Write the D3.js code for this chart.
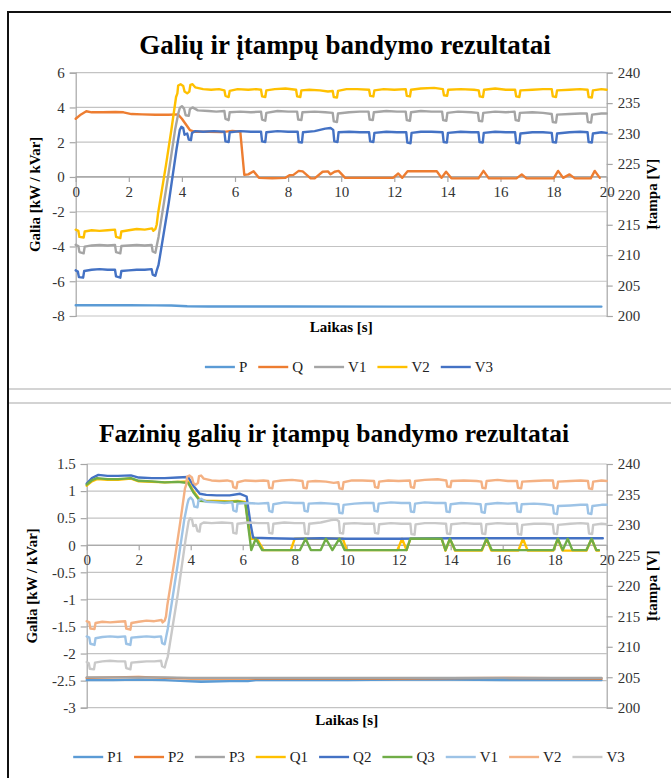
<!DOCTYPE html>
<html><head><meta charset="utf-8">
<script src="https://cdn.jsdelivr.net/npm/d3@7"></script>
<style>
body{margin:0;background:#fff;}
svg{display:block;}
svg text{font-family:"Liberation Serif","Times New Roman",serif !important;}
</style></head>
<body><svg id="c" width="671" height="778"></svg>
<script>
// ---------- DATA ----------
const xTicks = [0,2,4,6,8,10,12,14,16,18,20];
const topLeftTicks = [-8,-6,-4,-2,0,2,4,6];
const botLeftTicks = [-3,-2.5,-2,-1.5,-1,-0.5,0,0.5,1,1.5];
const rightTicks = [200,205,210,215,220,225,230,235,240];

// phase voltages [s, V]
const V1 = [[0,211.7],[0.1,211.5],[0.14,210.5],[0.3,210.3],[0.34,211.4],[0.6,211.6],[0.9,211.7],[1.2,211.6],[1.48,211.7],[1.52,210.5],[1.68,210.3],[1.72,211.5],[2.0,211.6],[2.3,211.7],[2.6,211.6],[2.86,211.7],[2.9,210.6],[3.0,210.4],[3.05,211.5],[3.12,213.0],[3.5,223.5],[3.75,230.8],[3.87,233.4],[3.92,234.2],[4.0,234.5],[4.08,234.1],[4.14,233.0],[4.26,232.9],[4.3,234.0],[4.4,234.3],[4.6,233.8],[5.0,233.7],[5.3,233.6],[5.6,233.7],[5.64,232.4],[5.76,232.2],[5.8,233.5],[6.2,233.6],[6.6,233.5],[6.98,233.6],[7.02,232.3],[7.14,232.1],[7.18,233.4],[7.6,233.7],[8.0,233.6],[8.34,233.6],[8.38,232.3],[8.5,232.2],[8.54,233.5],[9.0,233.6],[9.4,233.5],[9.68,233.4],[9.72,232.0],[9.84,231.9],[9.88,233.3],[10.3,233.5],[10.7,233.6],[11.03,233.6],[11.07,232.3],[11.19,232.2],[11.23,233.5],[11.7,233.7],[12.1,233.6],[12.43,233.6],[12.47,232.2],[12.59,232.1],[12.63,233.5],[13.0,233.7],[13.4,233.6],[13.8,233.6],[13.84,232.2],[13.96,232.1],[14.0,233.4],[14.4,233.6],[14.9,233.5],[15.15,233.4],[15.19,232.1],[15.31,232.0],[15.35,233.4],[15.8,233.6],[16.2,233.5],[16.53,233.6],[16.57,232.2],[16.69,232.1],[16.73,233.4],[17.2,233.5],[17.6,233.4],[17.93,233.2],[17.97,231.9],[18.09,231.8],[18.13,233.1],[18.6,233.2],[19.0,233.3],[19.25,233.3],[19.29,231.9],[19.41,231.8],[19.45,233.1],[19.8,233.3],[20,233.3]];
const V2 = [[0,214.2],[0.1,214.0],[0.14,213.0],[0.3,212.9],[0.34,213.9],[0.6,214.1],[0.9,214.0],[1.2,214.1],[1.48,214.2],[1.52,213.0],[1.68,212.8],[1.72,213.9],[2.0,214.1],[2.3,214.3],[2.6,214.2],[2.88,214.4],[2.92,214.0],[3.0,214.3],[3.05,215.0],[3.1,216.8],[3.4,224.8],[3.6,230.5],[3.78,236.0],[3.83,236.6],[3.86,237.9],[3.95,238.1],[4.05,237.8],[4.1,236.9],[4.2,236.6],[4.28,236.9],[4.32,238.0],[4.4,238.1],[4.5,237.6],[4.8,237.3],[5.1,237.2],[5.4,237.3],[5.6,237.1],[5.64,236.2],[5.76,236.0],[5.8,237.0],[6.1,237.3],[6.5,237.2],[6.8,237.3],[6.98,237.2],[7.02,236.1],[7.14,236.0],[7.18,237.1],[7.5,237.3],[7.9,237.4],[8.3,237.2],[8.34,236.1],[8.46,236.0],[8.5,237.1],[8.8,237.2],[9.2,237.1],[9.5,236.9],[9.68,237.0],[9.72,236.0],[9.84,235.9],[9.88,237.0],[10.2,237.3],[10.6,237.3],[11.05,237.2],[11.09,236.2],[11.21,236.1],[11.25,237.1],[11.6,237.3],[12.0,237.2],[12.43,237.3],[12.47,236.2],[12.59,236.1],[12.63,237.2],[13.0,237.4],[13.5,237.5],[13.83,237.3],[13.87,236.3],[13.99,236.2],[14.03,237.2],[14.5,237.3],[15.0,237.2],[15.18,237.1],[15.22,236.1],[15.34,236.0],[15.38,237.2],[15.8,237.4],[16.2,237.2],[16.55,237.2],[16.59,236.1],[16.71,236.0],[16.75,237.1],[17.2,237.2],[17.6,237.3],[17.93,237.3],[17.97,236.1],[18.09,236.0],[18.13,237.1],[18.6,237.2],[19.0,237.3],[19.28,237.2],[19.32,236.0],[19.44,235.9],[19.48,237.1],[19.8,237.3],[20,237.2]];
const V3 = [[0,207.5],[0.08,207.3],[0.12,206.4],[0.28,206.3],[0.32,207.4],[0.6,207.6],[0.9,207.7],[1.2,207.6],[1.48,207.6],[1.52,206.5],[1.68,206.3],[1.72,207.4],[2.0,207.5],[2.3,207.6],[2.6,207.6],[2.86,207.7],[2.9,206.8],[3.0,206.6],[3.06,207.6],[3.12,208.4],[3.5,218.5],[3.8,227.5],[3.92,230.6],[3.98,231.1],[4.05,230.9],[4.1,229.8],[4.2,230.0],[4.26,229.0],[4.34,228.9],[4.38,230.1],[4.5,230.4],[4.8,230.3],[5.2,230.4],[5.6,230.3],[5.64,228.7],[5.76,228.6],[5.8,230.2],[6.2,230.4],[6.6,230.3],[6.98,230.3],[7.02,228.7],[7.14,228.6],[7.18,230.2],[7.6,230.4],[8.0,230.3],[8.36,230.3],[8.4,228.6],[8.52,228.5],[8.56,230.2],[9.0,230.4],[9.4,230.8],[9.6,230.9],[9.7,230.6],[9.74,228.7],[9.86,228.6],[9.9,230.2],[10.3,230.3],[10.7,230.2],[11.05,230.2],[11.09,228.7],[11.21,228.6],[11.25,230.1],[11.7,230.3],[12.1,230.2],[12.45,230.2],[12.49,228.5],[12.61,228.4],[12.65,230.1],[13.0,230.3],[13.4,230.3],[13.82,230.2],[13.86,228.6],[13.98,228.5],[14.02,230.1],[14.5,230.3],[14.9,230.2],[15.17,230.2],[15.21,228.6],[15.33,228.5],[15.37,230.1],[15.8,230.3],[16.2,230.2],[16.55,230.2],[16.59,228.5],[16.71,228.4],[16.75,230.0],[17.2,230.2],[17.6,230.2],[17.93,230.1],[17.97,228.6],[18.09,228.5],[18.13,230.0],[18.6,230.2],[19.0,230.3],[19.28,230.2],[19.32,228.6],[19.44,228.5],[19.48,230.0],[19.8,230.2],[20,230.1]];

// total power [s, kW / kVar]
const P = [[0,-7.38],[1,-7.38],[2,-7.38],[3,-7.39],[3.6,-7.4],[4.2,-7.44],[5,-7.45],[8,-7.45],[12,-7.46],[16,-7.46],[19.8,-7.46]];
const Q = [[0,3.35],[0.2,3.6],[0.4,3.78],[0.6,3.72],[1.0,3.72],[1.5,3.74],[1.8,3.72],[2.1,3.62],[2.5,3.6],[3.0,3.58],[3.5,3.58],[3.85,3.6],[4.0,3.35],[4.3,2.7],[4.5,2.6],[5.0,2.6],[5.5,2.58],[5.9,2.65],[6.2,2.6],[6.35,0.12],[6.5,0.15],[6.7,0.33],[6.9,-0.05],[7.4,-0.07],[7.9,-0.05],[8.05,0.1],[8.2,0.12],[8.4,0.35],[8.55,0.32],[8.85,-0.08],[9.0,-0.08],[9.3,0.3],[9.5,0.32],[9.6,0.15],[9.75,0.3],[9.9,0.35],[10.15,-0.05],[11.0,-0.05],[11.95,-0.05],[12.15,0.2],[12.3,-0.05],[12.5,0.33],[13.6,0.33],[13.78,-0.05],[13.95,0.3],[14.15,-0.08],[15.17,-0.08],[15.36,0.35],[15.56,-0.08],[16.6,-0.08],[16.8,0.15],[16.98,-0.08],[18.0,-0.08],[18.17,0.35],[18.36,-0.05],[18.6,0.15],[18.8,-0.08],[19.4,-0.08],[19.55,0.35],[19.74,-0.05]];

// phase powers [s, kW / kVar]
const P1 = [[0,-2.49],[1,-2.49],[2,-2.48],[3,-2.49],[3.8,-2.51],[4.4,-2.52],[5.5,-2.51],[6.2,-2.51],[6.5,-2.49],[8,-2.49],[10,-2.49],[12,-2.48],[14,-2.48],[16,-2.49],[18,-2.49],[19.8,-2.49]];
const P2 = [[0,-2.45],[1,-2.44],[2,-2.43],[3,-2.45],[4,-2.46],[6,-2.46],[8,-2.46],[12,-2.46],[16,-2.45],[19.8,-2.46]];
const P3 = [[0,-2.44],[1,-2.44],[2,-2.44],[3,-2.44],[4,-2.45],[6,-2.45],[8,-2.45],[12,-2.45],[16,-2.45],[19.8,-2.45]];
const Q1 = [[0,1.1],[0.2,1.18],[0.4,1.22],[0.8,1.21],[1.2,1.21],[1.7,1.23],[2.0,1.18],[2.5,1.17],[3.0,1.16],[3.5,1.17],[3.9,1.18],[4.1,1.0],[4.35,0.84],[4.6,0.82],[5.0,0.82],[5.5,0.81],[5.8,0.82],[6.1,0.8],[6.3,0.12],[6.55,0.12],[6.8,-0.09],[7.85,-0.09],[8.0,0.12],[9.85,0.12],[10.0,-0.09],[11.95,-0.09],[12.13,0.12],[12.3,-0.09],[12.45,0.12],[13.65,0.12],[13.8,-0.1],[13.97,0.12],[14.17,-0.1],[15.2,-0.1],[15.38,0.12],[15.56,-0.1],[16.6,-0.1],[16.78,0.12],[16.96,-0.1],[17.95,-0.1],[18.12,0.12],[18.3,-0.1],[19.22,-0.1],[19.42,0.12],[19.6,-0.1],[19.7,-0.1]];
const Q2 = [[0,1.14],[0.2,1.24],[0.45,1.3],[0.8,1.28],[1.2,1.28],[1.7,1.29],[2.0,1.25],[2.5,1.24],[3.0,1.24],[3.5,1.25],[3.9,1.26],[4.1,1.1],[4.35,0.95],[4.6,0.93],[5.0,0.92],[5.5,0.92],[5.9,0.95],[6.15,0.9],[6.3,0.4],[6.4,0.14],[7.0,0.13],[8.0,0.12],[9.0,0.13],[10.0,0.12],[12.0,0.12],[14.0,0.13],[16.0,0.13],[18.0,0.13],[19.85,0.13]];
const Q3 = [[0,1.12],[0.2,1.2],[0.4,1.24],[0.8,1.22],[1.2,1.22],[1.7,1.24],[2.0,1.19],[2.5,1.18],[3.0,1.16],[3.5,1.17],[3.9,1.15],[4.1,0.98],[4.35,0.82],[4.6,0.81],[5.0,0.8],[5.5,0.8],[5.8,0.81],[6.1,0.78],[6.33,-0.09],[6.5,0.12],[6.75,-0.09],[8.2,-0.09],[8.42,0.12],[8.62,-0.09],[9.0,-0.09],[9.2,0.12],[9.45,-0.09],[9.72,0.12],[9.92,-0.09],[12.3,-0.09],[12.45,0.12],[13.65,0.12],[13.8,-0.09],[13.97,0.12],[14.17,-0.09],[15.19,-0.09],[15.38,0.12],[15.58,-0.09],[17.95,-0.09],[18.12,0.12],[18.31,-0.09],[18.5,0.12],[18.68,-0.09],[19.22,-0.09],[19.42,0.12],[19.6,-0.09],[19.7,-0.09]];

// ---------- DRAW ----------
const svg = d3.select("#c");
const GRID = "#c3c3c3", AXIS = "#a6a6a6";

// frame
svg.append("line").attr("x1",8).attr("x2",8).attr("y1",11).attr("y2",778).attr("stroke","#111").attr("stroke-width",2);
svg.append("line").attr("x1",7).attr("x2",671).attr("y1",12).attr("y2",12).attr("stroke","#111").attr("stroke-width",2);
svg.append("line").attr("x1",9).attr("x2",671).attr("y1",389).attr("y2",389).attr("stroke","#d4d4d4").attr("stroke-width",2);
svg.append("line").attr("x1",9).attr("x2",671).attr("y1",403).attr("y2",403).attr("stroke","#a8a8a8").attr("stroke-width",1.2);

function chart(cfg){
  const g = svg.append("g");
  const x = d3.scaleLinear().domain([0,20]).range([cfg.left,cfg.right]);
  const yL = d3.scaleLinear().domain(cfg.lDomain).range([cfg.bottom,cfg.top]);
  const yR = d3.scaleLinear().domain([200,240]).range([cfg.bottom,cfg.top]);

  // title
  g.append("text").attr("x",cfg.titleX).attr("y",cfg.titleY).attr("text-anchor","middle")
    .attr("font-size",cfg.titleSize).attr("font-weight","bold").attr("fill","#000").text(cfg.title);

  // gridlines
  g.append("g").selectAll("line").data(cfg.lTicks).join("line")
    .attr("x1",cfg.left).attr("x2",cfg.right).attr("y1",d=>yL(d)).attr("y2",d=>yL(d))
    .attr("stroke",d=>d===0?AXIS:GRID).attr("stroke-width",1.2);

  // left axis
  const la = g.append("g").attr("transform",`translate(${cfg.left},0)`)
    .call(d3.axisLeft(yL).tickValues(cfg.lTicks).tickSize(6).tickPadding(5).tickFormat(d=>String(d)));
  // right axis
  const ra = g.append("g").attr("transform",`translate(${cfg.right},0)`)
    .call(d3.axisRight(yR).tickValues(rightTicks).tickSize(6).tickPadding(5));
  // x axis at 0
  const xa = g.append("g").attr("transform",`translate(0,${yL(0)})`)
    .call(d3.axisBottom(x).tickValues(xTicks).tickSize(5).tickPadding(4));
  [la,ra,xa].forEach(a=>{
    a.attr("font-family",null);
    a.select(".domain").attr("stroke",AXIS).attr("stroke-width",1.2);
    a.selectAll(".tick line").attr("stroke",AXIS).attr("stroke-width",1.2);
    a.selectAll(".tick text").attr("font-size",15).attr("fill","#333");
  });
  xa.select(".domain").attr("d",`M${cfg.left},0H${cfg.right}`);

  // axis titles
  const cy = (cfg.top+cfg.bottom)/2;
  g.append("text").attr("transform",`translate(${cfg.lTitleX},${cy}) rotate(-90)`).attr("text-anchor","middle")
    .attr("font-size",15).attr("font-weight","bold").text("Galia [kW / kVar]");
  g.append("text").attr("transform",`translate(${cfg.rTitleX},${cy}) rotate(-90)`).attr("text-anchor","middle")
    .attr("font-size",15).attr("font-weight","bold").text("Įtampa [V]");
  g.append("text").attr("x",(cfg.left+cfg.right)/2).attr("y",cfg.xTitleY).attr("text-anchor","middle")
    .attr("font-size",15).attr("font-weight","bold").text("Laikas [s]");

  // series
  cfg.series.forEach(s=>{
    const yS = s.axis==="R"?yR:yL;
    const line = d3.line().x(d=>x(d[0])).y(d=>yS(d[1]));
    g.append("path").datum(s.data).attr("d",line).attr("fill","none")
      .attr("stroke",s.color).attr("stroke-width",2.4).attr("stroke-linejoin","round").attr("stroke-linecap","round");
  });

  // legend
  const lg = g.append("g");
  let cx = 0;
  cfg.series.forEach(s=>{
    const it = lg.append("g").attr("transform",`translate(${cx},0)`);
    it.append("line").attr("x1",0).attr("x2",30).attr("y1",0).attr("y2",0).attr("stroke",s.color).attr("stroke-width",2.4);
    const t = it.append("text").attr("x",34).attr("y",5).attr("font-size",15).attr("fill","#222").text(s.name);
    cx += 34 + t.node().getComputedTextLength() + 11;
  });
  const total = cx - 11;
  lg.attr("transform",`translate(${cfg.legendCX - total/2},${cfg.legendY})`);
}

chart({
  title:"Galių ir įtampų bandymo rezultatai", titleX:345, titleY:54, titleSize:27,
  left:75.7, right:606.7, top:72.7, bottom:316,
  lDomain:[-8,6], lTicks:topLeftTicks,
  lTitleX:40, rTitleX:657, xTitleY:332,
  legendCX:349, legendY:367,
  series:[
    {name:"P", data:P, color:"#5B9BD5", axis:"L"},
    {name:"Q", data:Q, color:"#ED7D31", axis:"L"},
    {name:"V1", data:V1, color:"#A5A5A5", axis:"R"},
    {name:"V2", data:V2, color:"#FFC000", axis:"R"},
    {name:"V3", data:V3, color:"#4472C4", axis:"R"}
  ]
});

chart({
  title:"Fazinių galių ir įtampų bandymo rezultatai", titleX:334, titleY:442, titleSize:25.5,
  left:86.7, right:606.7, top:464, bottom:707.7,
  lDomain:[-3,1.5], lTicks:botLeftTicks,
  lTitleX:37, rTitleX:657, xTitleY:725,
  legendCX:349, legendY:757,
  series:[
    {name:"P1", data:P1, color:"#5B9BD5", axis:"L"},
    {name:"P2", data:P2, color:"#ED7D31", axis:"L"},
    {name:"P3", data:P3, color:"#A5A5A5", axis:"L"},
    {name:"Q1", data:Q1, color:"#FFC000", axis:"L"},
    {name:"Q2", data:Q2, color:"#4472C4", axis:"L"},
    {name:"Q3", data:Q3, color:"#70AD47", axis:"L"},
    {name:"V1", data:V1, color:"#9DC3E6", axis:"R"},
    {name:"V2", data:V2, color:"#F4B183", axis:"R"},
    {name:"V3", data:V3, color:"#C9C9C9", axis:"R"}
  ]
});
</script></body></html>
